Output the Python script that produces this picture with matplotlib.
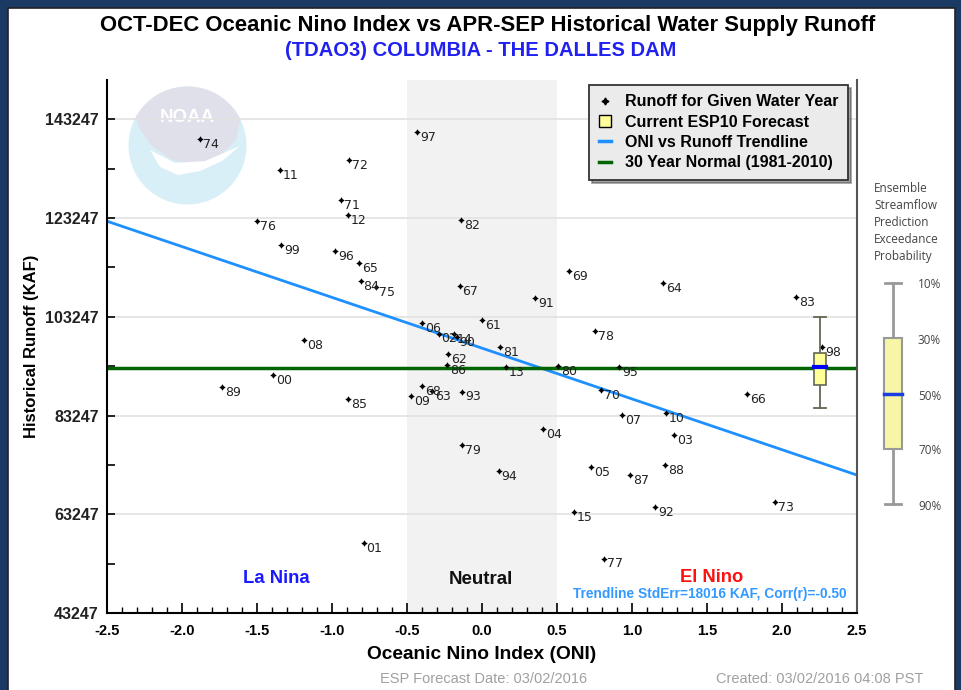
import numpy as np
import matplotlib
matplotlib.use('Agg')
import matplotlib.pyplot as plt
from matplotlib import font_manager as fm
from matplotlib.patches import Rectangle, Circle, Polygon
from matplotlib.lines import Line2D
from matplotlib.ticker import FixedLocator, MultipleLocator, FuncFormatter

# ---------------- data ----------------
years = ['74', '11', '72', '71', '12', '76', '99', '96', '65', '84', '75', '97', '82', '67',
         '91', '69', '64', '61', '06', '78', '02', '14', '90', '62', '86', '81', '13', '80',
         '95', '68', '63', '09', '93', '70', '07', '10', '03', '04', '79', '94', '05', '87',
         '88', '15', '92', '77', '08', '00', '89', '85', '01', '83', '98', '66', '73']
oni = [-1.88, -1.35, -0.885, -0.94, -0.895, -1.50, -1.34, -0.98, -0.82, -0.81, -0.71, -0.435,
       -0.14, -0.15, 0.355, 0.58, 1.205, 0.00, -0.40, 0.75, -0.29, -0.19, -0.17, -0.225,
       -0.235, 0.12, 0.16, 0.505, 0.915, -0.40, -0.335, -0.475, -0.135, 0.79, 0.935, 1.225,
       1.28, 0.405, -0.135, 0.11, 0.725, 0.985, 1.22, 0.61, 1.155, 0.81, -1.185, -1.395,
       -1.735, -0.895, -0.79, 2.095, 2.265, 1.765, 1.955]
runoff = [139200, 132900, 134950, 126850, 123900, 122650, 117800, 116600, 114150, 110500,
          109200, 140700, 122800, 109450, 106950, 112550, 110000, 102550, 102000, 100400,
          99850, 99700, 99100, 95700, 93450, 97050, 93100, 93250, 93100, 89200, 88250, 87150,
          88100, 88400, 83400, 83800, 79200, 80550, 77200, 72050, 72850, 71100, 73150, 63700,
          64750, 54250, 98500, 91400, 88950, 86500, 57350, 107150, 97050, 87600, 65700]

forecast_oni = 2.255
forecast_pcts = [103230, 95820, 93050, 89400, 84750]   # 10,30,50,70,90 % exceedance
exceed_labels = ['10%', '30%', '50%', '70%', '90%']
normal_runoff = 92900
trend_x = [-2.5, 2.5]
trend_y = [122600, 71180]

yticks_major = [43247, 63247, 83247, 103247, 123247, 143247]
ytick_all = [43247 + 10000 * k for k in range(11)]
xticks_major = [-2.5, -2.0, -1.5, -1.0, -0.5, 0.0, 0.5, 1.0, 1.5, 2.0, 2.5]
ylim = (43247, 151200)

title = 'OCT-DEC Oceanic Nino Index vs APR-SEP Historical Water Supply Runoff'
subtitle = '(TDAO3) COLUMBIA - THE DALLES DAM'
legend_labels = ['Runoff for Given Water Year', 'Current ESP10 Forecast',
                 'ONI vs Runoff Trendline', '30 Year Normal (1981-2010)']
stat_text = 'Trendline StdErr=18016 KAF, Corr(r)=-0.50'

# ---------------- fonts ----------------
def pick(fams):
    for f in fams:
        try:
            fm.findfont(fm.FontProperties(family=f), fallback_to_default=False)
            return f
        except Exception:
            pass
    return 'DejaVu Sans'

ARIAL = pick(['Liberation Sans', 'Arimo'])
SOFT = pick(['Open Sans', 'Lato', 'Noto Sans'])

W, H = 961, 690
fig = plt.figure(figsize=(W / 100, H / 100), dpi=100)
fig.patch.set_facecolor('#1b3a63')

# overlay axes in pixel coordinates (background)
ov = fig.add_axes([0, 0, 1, 1], zorder=-5)
ov.set_xlim(0, W)
ov.set_ylim(H, 0)
ov.axis('off')
ov.add_patch(Rectangle((8, 8), 947, 700, facecolor='white', edgecolor='#222222', lw=1.2))

# NOAA watermark
cx, cy, r = 187.5, 145.5, 59
circ = Circle((cx, cy), r, facecolor='#d9eff7', edgecolor='none')
ov.add_patch(circ)
top = Polygon([(134, 112), (150, 92), (187, 84), (225, 92), (242, 112), (236, 140),
               (218, 158), (195, 165), (172, 160), (152, 146), (140, 130)],
              closed=True, facecolor='#dfe0ea', edgecolor='none')
ov.add_patch(top)
top.set_clip_path(circ)
bird = Polygon([(150, 150), (175, 163), (205, 161), (240, 146), (222, 161), (200, 171),
                (178, 175), (160, 167)], closed=True, facecolor='white', edgecolor='none')
ov.add_patch(bird)
ov.text(187, 118, 'NOAA', color='white', fontsize=13.5, fontweight='bold',
        family=ARIAL, ha='center', va='center')

# titles
ov.text(488, 25, title, ha='center', va='center', fontsize=15.9, fontweight='bold',
        family=ARIAL, color='black')
ov.text(481, 50, subtitle, ha='center', va='center', fontsize=14.5, fontweight='bold',
        family=ARIAL, color='#2020f0')

# footer
ov.text(484, 679, 'ESP Forecast Date: 03/02/2016', ha='center', va='center',
        fontsize=10.5, family=ARIAL, color='#a0a0a0')
ov.text(923, 679, 'Created: 03/02/2016 04:08 PST', ha='right', va='center',
        fontsize=10.5, family=ARIAL, color='#a0a0a0')

# right-hand exceedance key
for i, line in enumerate(['Ensemble', 'Streamflow', 'Prediction', 'Exceedance', 'Probability']):
    ov.text(874, 188 + i * 17.2, line, ha='left', va='center', fontsize=8.5,
            family=SOFT, color='#444444')
key_y = [283, 338, 394, 449, 504]
ov.plot([893, 893], [key_y[0], key_y[4]], color='#999999', lw=2, zorder=1)
for yy in (key_y[0], key_y[4]):
    ov.plot([885, 901], [yy, yy], color='#999999', lw=2, zorder=1)
ov.add_patch(Rectangle((884, key_y[1]), 18, key_y[3] - key_y[1], facecolor='#f6f6a6',
                       edgecolor='#999999', lw=1.5, zorder=2))
ov.plot([884, 902], [key_y[2], key_y[2]], color='#1a3fe0', lw=2.5, zorder=3)
for yy, lab in zip(key_y, exceed_labels):
    ov.text(918, yy + 2, lab, ha='left', va='center', fontsize=8.5, family=SOFT,
            color='#444444')

# ---------------- main axes ----------------
ax = fig.add_axes([107 / W, 1 - 613 / H, 750 / W, 533 / H])
ax.set_facecolor('none')
ax.set_xlim(-2.5, 2.5)
ax.set_ylim(*ylim)

ax.axvspan(-0.5, 0.5, color='#f2f2f2', zorder=0, lw=0)
for yv in yticks_major[1:]:
    ax.axhline(yv, color='#e2e2e2', lw=1.2, zorder=0.5)

ax.plot(trend_x, trend_y, color='#1e90ff', lw=2, zorder=2)
ax.axhline(normal_runoff, color='#006400', lw=2.5, zorder=2)

ax.scatter(oni, runoff, marker=(4, 1, 0), s=14, color='black', zorder=4, linewidths=0.6)
for x, y, lab in zip(oni, runoff, years):
    ax.annotate(lab, (x, y), xytext=(2.2, -3.8), textcoords='offset points', ha='left',
                va='center', fontsize=9, color='#222222', zorder=5)

# forecast box
bw = 0.078
p10, p30, p50, p70, p90 = forecast_pcts
ax.plot([forecast_oni, forecast_oni], [p90, p70], color='#666655', lw=1.3, zorder=5)
ax.plot([forecast_oni, forecast_oni], [p30, p10], color='#666655', lw=1.3, zorder=5)
for yy in (p10, p90):
    ax.plot([forecast_oni - bw / 2, forecast_oni + bw / 2], [yy, yy], color='#666655',
            lw=1.3, zorder=5)
ax.add_patch(Rectangle((forecast_oni - bw / 2, p70), bw, p30 - p70, facecolor='#ffff99',
                       edgecolor='#666655', lw=1.2, zorder=5))
ax.plot([forecast_oni - bw / 2, forecast_oni + bw / 2], [p50, p50], color='#0000ff', lw=3,
        zorder=6)

# region labels (pixel rows converted to data units)
def row(py):
    return 43247 + (613 - py) / 4.94 * 1000

ax.text(-1.37, row(578), 'La Nina', color='#1a1aff', fontsize=13.3, fontweight='bold',
        family=ARIAL, ha='center', va='center')
ax.text(-0.005, row(579), 'Neutral', color='#111111', fontsize=13.5, fontweight='bold',
        family=ARIAL, ha='center', va='center')
ax.text(1.533, row(577), 'El Nino', color='#ff1010', fontsize=13.2, fontweight='bold',
        family=ARIAL, ha='center', va='center')
ax.text(2.43, row(594), stat_text, color='#3399ff', fontsize=9.9,
        fontweight='bold', family=ARIAL, ha='right', va='center')

# ticks
ax.yaxis.set_major_locator(FixedLocator(ytick_all))
ax.yaxis.set_major_formatter(FuncFormatter(
    lambda v, p: f'{int(round(v))}' if int(round(v)) in yticks_major else ''))
ax.xaxis.set_major_locator(FixedLocator(xticks_major))
ax.xaxis.set_minor_locator(MultipleLocator(0.1))
ax.xaxis.set_major_formatter(FuncFormatter(lambda v, p: f'{v:.1f}'))
ax.tick_params(axis='y', direction='in', length=6, width=1.2, pad=6, colors='black')
ax.tick_params(axis='x', which='major', direction='in', length=7, width=1.2, pad=8)
ax.tick_params(axis='x', which='minor', direction='in', length=4, width=1)
for lab in ax.get_yticklabels():
    lab.set_fontfamily(ARIAL)
    lab.set_fontweight('bold')
    lab.set_fontsize(11.5)
    lab.set_color('#222222')
for lab in ax.get_xticklabels():
    lab.set_fontfamily(ARIAL)
    lab.set_fontweight('bold')
    lab.set_fontsize(10.5)

ax.spines['top'].set_visible(False)
ax.spines['left'].set_linewidth(1.5)
ax.spines['bottom'].set_linewidth(1.5)
ax.spines['right'].set_color('#555555')
ax.spines['right'].set_linewidth(1.5)

ax.set_xlabel('Oceanic Nino Index (ONI)', fontsize=13.8, fontweight='bold',
              family=ARIAL, labelpad=6)
ax.set_ylabel('Historical Runoff (KAF)', fontsize=12, fontweight='bold', family=ARIAL,
              labelpad=4)

handles = [
    Line2D([], [], marker=(4, 1, 0), color='black', ls='', markersize=5),
    Line2D([], [], marker='s', markerfacecolor='#ffff99', markeredgecolor='black', ls='',
           markersize=9),
    Line2D([], [], color='#1e90ff', lw=2.5),
    Line2D([], [], color='#006400', lw=2.5),
]
leg = ax.legend(handles, legend_labels, loc='upper right', bbox_to_anchor=(0.988, 0.991),
                prop={'family': ARIAL, 'weight': 'bold', 'size': 11.5}, frameon=True,
                fancybox=False, shadow=True, framealpha=1, facecolor='#ebebeb',
                edgecolor='#333333', handlelength=0.8, handletextpad=0.85, labelspacing=0.33,
                borderpad=0.6, borderaxespad=0)
leg.get_frame().set_linewidth(1.3)
leg.set_zorder(10)

fig.savefig('out.png', dpi=100)
